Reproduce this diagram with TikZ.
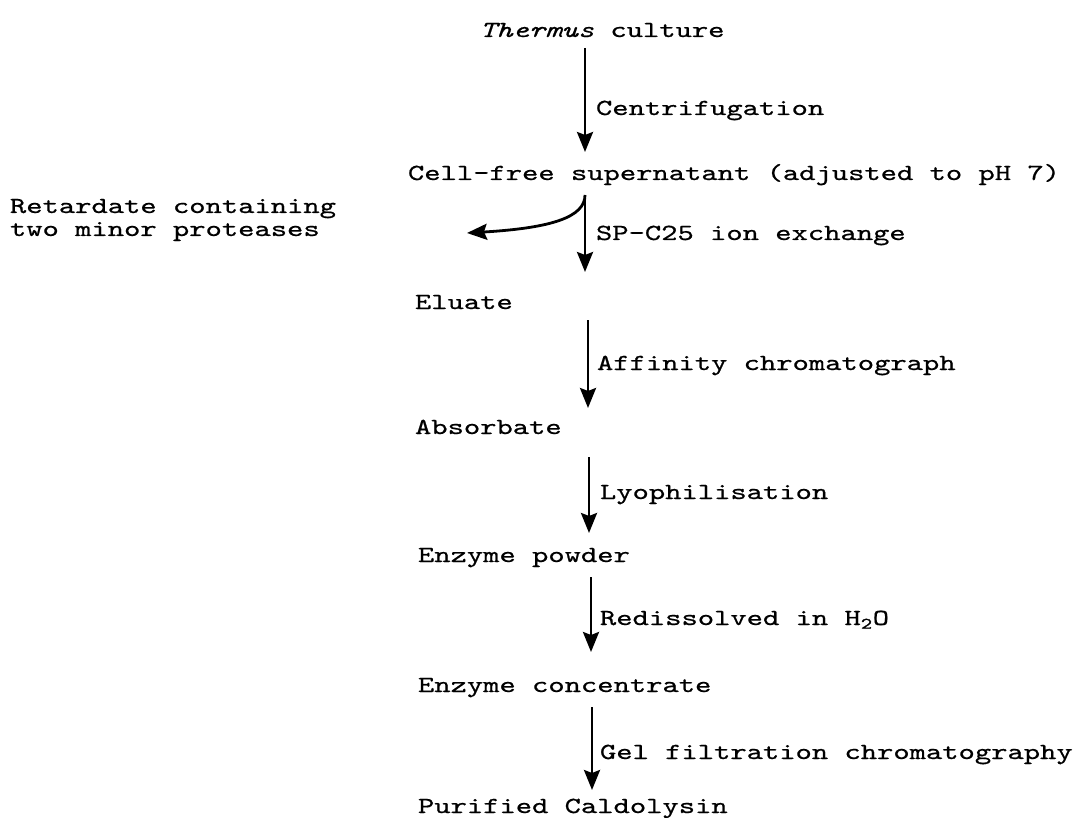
\documentclass[tikz,border=0pt]{standalone}
\usepackage{fontspec}
\setmainfont{lmmono10-regular.otf}[FakeStretch=1.35, FakeBold=0.7, ItalicFont=lmmono10-italic.otf]
\usepackage{tikz}
\usetikzlibrary{arrows.meta}

\begin{document}
\begin{tikzpicture}[x=1pt,y=-1pt]
  \tikzset{StepStyle/.style = {
    anchor        = base west,
    inner sep     = 0pt,
    outer sep     = 0pt,
    text height   = 14pt,
    text depth    = 5pt,
    text          = black,
    font          = \fontsize{23}{24}\selectfont
    }
  }
  \tikzset{SideStyle/.style = {
    anchor        = west,
    align         = left,
    inner sep     = 0pt,
    outer sep     = 0pt,
    text          = black,
    font          = \fontsize{23}{23}\selectfont
    }
  }
  \tikzset{ArrowStyle/.style = {
    draw          = black,
    line width    = 2.8pt,
    -{Stealth[length=20pt, width=16pt, inset=3pt]}
    }
  }
  \useasboundingbox (0,0) rectangle (1078,818);

	\node[StepStyle](S1) at (480,37) {\textit{Thermus} culture};
	\node[StepStyle](S2) at (408,180) {Cell-free supernatant (adjusted to pH 7)};
	\node[StepStyle](S3) at (415,309) {Eluate};
	\node[StepStyle](S4) at (415,434) {Absorbate};
	\node[StepStyle](S5) at (418,562) {Enzyme powder};
	\node[StepStyle](S6) at (418,692) {Enzyme concentrate};
	\node[StepStyle](S7) at (418,813) {Purified Caldolysin};
	\node[SideStyle](R1) at (10,220) {Retardate containing\\two minor proteases};
	\node[StepStyle](L1) at (596,115) {Centrifugation};
	\node[StepStyle](L2) at (596,240) {SP-C25 ion exchange};
	\node[StepStyle](L3) at (597,370) {Affinity chromatograph};
	\node[StepStyle](L4) at (600,499) {Lyophilisation};
	\node[StepStyle](L5) at (600,625) {Redissolved in H\textsubscript{2}O};
	\node[StepStyle](L6) at (600,759) {Gel filtration chromatography};
	\coordinate (R1tip) at (467,233);
	\draw[ArrowStyle, shorten <=6pt, shorten >=14pt]([xshift=-11pt]L1.west |- S1.south) to ([xshift=-11pt]L1.west |- S2.north);
	\draw[ArrowStyle, shorten <=10pt, shorten >=23pt]([xshift=-11pt]L2.west |- S2.south) to ([xshift=-11pt]L2.west |- S3.north);
	\draw[ArrowStyle, shorten <=10pt]([xshift=-11pt]L2.west |- S2.south) .. controls +(0,32) and +(85,-5) .. (R1tip);
	\draw[ArrowStyle, shorten <=6pt, shorten >=12pt]([xshift=-9pt]L3.west |- S3.south) to ([xshift=-9pt]L3.west |- S4.north);
	\draw[ArrowStyle, shorten <=18pt, shorten >=15pt]([xshift=-11pt]L4.west |- S4.south) to ([xshift=-11pt]L4.west |- S5.north);
	\draw[ArrowStyle, shorten <=10pt, shorten >=26pt]([xshift=-9pt]L5.west |- S5.south) to ([xshift=-9pt]L5.west |- S6.north);
	\draw[ArrowStyle, shorten <=10pt, shorten >=9pt]([xshift=-8pt]L6.west |- S6.south) to ([xshift=-8pt]L6.west |- S7.north);

  \end{tikzpicture}
\end{document}
